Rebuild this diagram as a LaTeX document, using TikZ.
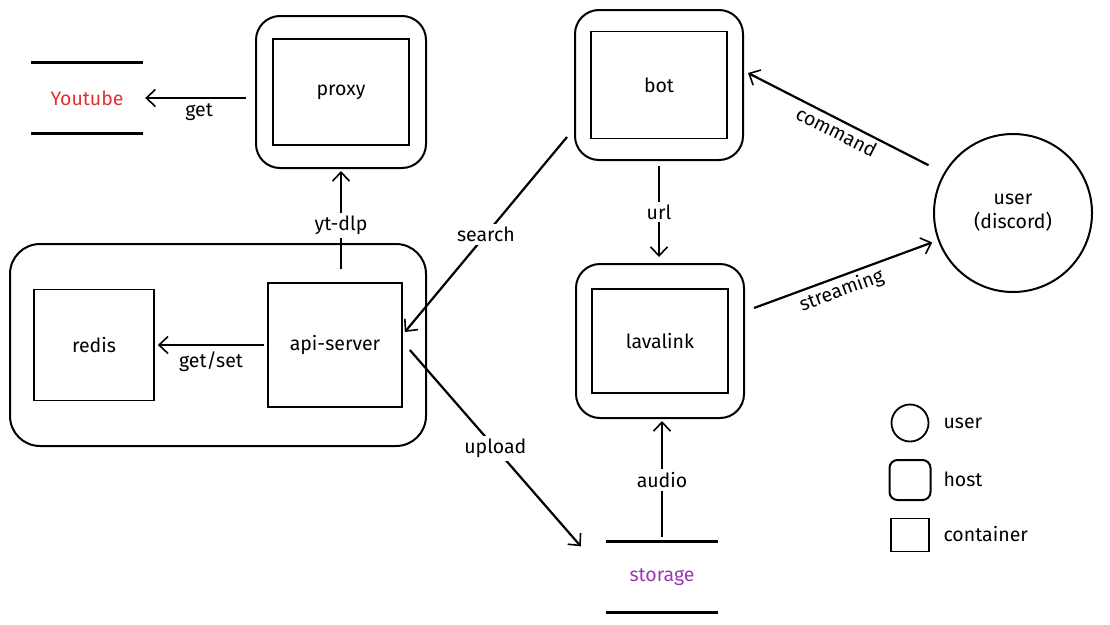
\documentclass[tikz,border=0pt]{standalone}
\usepackage{fontspec}
\setmainfont{Fira Sans}
\usetikzlibrary{positioning,calc,arrows.meta}
\tikzset{>={Straight Barb[length=9pt,width=17pt,line width=1.6pt]}}
\definecolor{ytred}{HTML}{E03131}
\definecolor{storepurple}{HTML}{9C36B5}
\tikzset{
    host/.style={draw,line width=2pt,rounded corners=24pt},
    container/.style={draw,line width=1.7pt,align=center},
    flow/.style={->,line width=2.2pt},
    lbl/.style={fill=white,inner sep=3pt},
    ext/.style={minimum width=112pt,minimum height=71pt}
}

\begin{document}
\begin{tikzpicture}[x=1pt,y=-1pt,font=\fontsize{19.5}{24}\selectfont]

    \useasboundingbox (0,0) rectangle (1110,624);

    \def\xYoutube{87}
    \def\xRedis{94}
    \def\xApi{218}
    \def\xServer{335}
    \def\xProxy{341}
    \def\xBot{659}
    \def\xLava{660}
    \def\xStorage{662}
    \def\xUser{1013}
    \def\xLegend{910}
    \def\xLegendText{940}
    \def\yBot{85}
    \def\yProxy{92}
    \def\yYoutube{98}
    \def\yUser{213}
    \def\yLava{341}
    \def\yApi{345}
    \def\yStorage{577}

    \def\widthHost{168pt}
    \def\heightHost{152pt}
    \def\widthBox{136pt}
    \def\heightBox{106pt}

    % hosts
    \node
        [host,minimum width=170pt,minimum height=\heightHost]
        at (\xProxy,\yProxy)
        (proxyhost) {};
    \node
        [container,minimum width=\widthBox,minimum height=\heightBox]
        at (\xProxy,\yProxy)
        (proxy) {proxy};
    \node
        [host,minimum width=\widthHost,minimum height=150pt]
        at (\xBot,\yBot)
        (bothost) {};
    \node
        [container,minimum width=\widthBox,minimum height=107pt]
        at (\xBot,\yBot)
        (bot) {bot};
    \node
        [host,minimum width=\widthHost,minimum height=154pt]
        at (\xLava,\yLava)
        (lavahost) {};
    \node
        [container,minimum width=\widthBox,minimum height=104pt]
        at (\xLava,\yLava)
        (lavalink) {lavalink};
    \node
        [host,rounded corners=30pt,minimum width=416pt,minimum height=202pt]
        at (\xApi,\yApi)
        (apihost) {};
    \node
        [container,minimum width=120pt,minimum height=111pt]
        at (\xRedis,\yApi)
        (redis) {redis};
    \node
        [container,minimum width=134pt,minimum height=124pt]
        at (\xServer,\yApi)
        (apiserver) {api-server};

    % user and external stores
    \node
        [circle,draw,line width=2pt,minimum size=158pt,align=center]
        at (\xUser,\yUser)
        (user) {user\\(discord)};
    \node
        [ext,text=ytred]
        at (\xYoutube,\yYoutube)
        (youtube) {Youtube};
    \node
        [ext,text=storepurple]
        at (\xStorage,\yStorage)
        (storage) {storage};
    \draw[line width=2.6pt] (youtube.north west) -- (youtube.north east);
    \draw[line width=2.6pt] (youtube.south west) -- (youtube.south east);
    \draw[line width=2.6pt] (storage.north west) -- (storage.north east);
    \draw[line width=2.6pt] (storage.south west) -- (storage.south east);

    % legend
    \node
        [circle,draw,line width=1.8pt,minimum size=37pt]
        at (\xLegend,423)
        (legenduser) {};
    \node
        [draw,line width=2pt,rounded corners=8pt,minimum width=41pt,minimum height=40pt]
        at (\xLegend,480)
        (legendhost) {};
    \node
        [draw,line width=1.7pt,minimum width=38pt,minimum height=33pt]
        at (\xLegend,535)
        (legendbox) {};
    \node[anchor=west] at (\xLegendText,423) (legendusertext) {user};
    \node[anchor=west] at (\xLegendText,479) (legendhosttext) {host};
    \node[anchor=west] at (\xLegendText,534) (legendboxtext) {container};

    % connections
    \draw[flow,shorten <=9pt,shorten >=2pt] (proxyhost.west |- youtube) -- node[below=1pt] {get} (youtube.east);
    \draw[flow,shorten <=13pt,shorten >=2pt] (apiserver.north -| proxyhost.south) -- node[lbl] {yt-dlp} (proxyhost.south);
    \draw[flow,shorten <=3pt,shorten >=3pt] (apiserver.west) -- node[below=2pt] {get/set} (redis.east);
    \draw[flow] ($(bothost.south west)+(-7,-24)$) -- node[lbl] {search} ($(apiserver.east)+(2,-13)$);
    \draw[flow] ($(apiserver.east)+(7,5)$) -- node[lbl] {upload} ($(storage.north west)+(-25,5)$);
    \draw[flow,shorten <=5pt,shorten >=6pt] (bothost.south) -- node[lbl] {url} (bothost.south |- lavahost.north);
    \draw[flow,shorten <=4pt,shorten >=2pt] (storage.north) -- node[lbl] {audio} (storage.north |- lavahost.south);
    \draw[flow,shorten <=17pt] (user.150) -- node[sloped,below=0pt,pos=0.52] {command} ($(bothost.east)+(4,-12)$);
    \draw[flow,shorten >=6pt] ($(lavahost.east)+(9,-33)$) -- node[sloped,below=0pt,pos=0.45] {streaming} (user.200);

\end{tikzpicture}
\end{document}
